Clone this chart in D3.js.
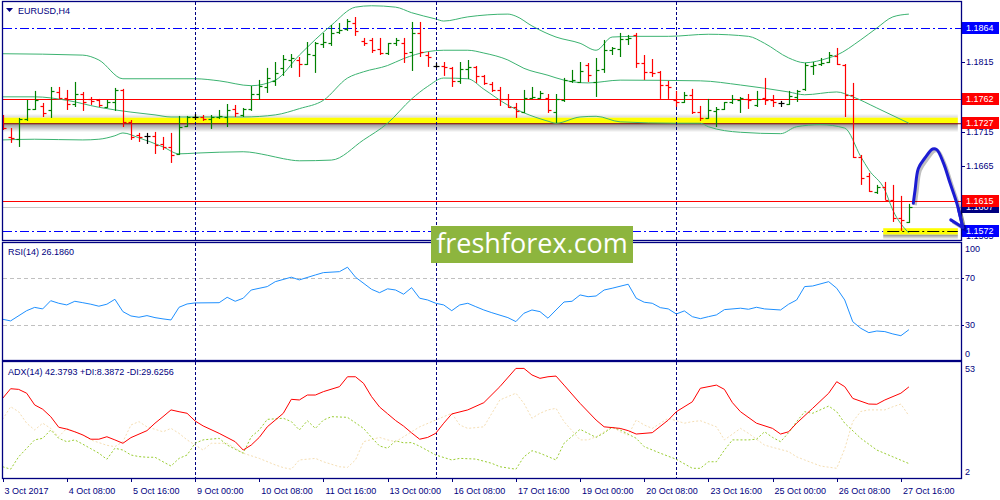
<!DOCTYPE html>
<html>
<head>
<meta charset="utf-8">
<script src="https://cdn.jsdelivr.net/npm/d3@7"></script>
<style>
  body { margin: 0; background: #fff; }
  svg text { font-family: Tahoma, "Liberation Sans", Arial, sans-serif; font-size: 9px; fill: #000080; }
</style>
</head>
<body>
<div id="chart"></div>
<script>
// EURUSD H4 bars, 3 Oct 2017 00:00 .. 27 Oct 2017 20:00
var opens = [1.17245,1.17073,1.17045,1.17332,1.17476,1.17519,1.17461,1.17720,1.17634,1.17547,
  1.17691,1.17620,1.17605,1.17504,1.17576,1.17749,1.17288,1.17102,1.17088,1.17088,
  1.16972,1.16929,1.16828,1.17231,1.17360,1.17360,1.17332,1.17360,1.17360,1.17476,
  1.17389,1.17476,1.17691,1.17792,1.17879,1.18066,1.18180,1.18180,1.18122,1.18252,
  1.18410,1.18425,1.18583,1.18626,1.18712,1.18454,1.18468,1.18339,1.18281,1.18425,
  1.18425,1.18295,1.18569,1.18252,1.18094,1.18094,1.18066,1.17879,1.18051,1.18080,
  1.17951,1.17836,1.17749,1.17620,1.17504,1.17432,1.17634,1.17634,1.17634,1.17432,
  1.17605,1.17879,1.17864,1.18108,1.17864,1.18051,1.18324,1.18339,1.18483,1.18540,
  1.18137,1.18008,1.18008,1.17821,1.17605,1.17576,1.17677,1.17432,1.17346,1.17447,
  1.17476,1.17576,1.17605,1.17620,1.17533,1.17634,1.17605,1.17562,1.17547,1.17648,
  1.17764,1.18094,1.18122,1.18151,1.18238,1.18108,1.17677,1.16785,1.16512,1.16282,
  1.16354,1.16167,1.15908,1.15850];
var highs = [1.17389,1.17202,1.17346,1.17605,1.17735,1.17562,1.17792,1.17792,1.17749,1.17864,
  1.17720,1.17648,1.17620,1.17605,1.17778,1.17764,1.17317,1.17131,1.17131,1.17145,
  1.17073,1.17131,1.17375,1.17375,1.17403,1.17389,1.17389,1.17461,1.17547,1.17533,
  1.17490,1.17807,1.17893,1.18066,1.18151,1.18252,1.18266,1.18223,1.18439,1.18439,
  1.18569,1.18683,1.18712,1.18769,1.18798,1.18497,1.18497,1.18497,1.18425,1.18497,
  1.18497,1.18727,1.18727,1.18295,1.18137,1.18151,1.18080,1.18151,1.18180,1.18094,
  1.17965,1.17864,1.17792,1.17691,1.17562,1.17749,1.17792,1.17735,1.17691,1.17691,
  1.17922,1.18037,1.18151,1.18137,1.18209,1.18468,1.18367,1.18569,1.18540,1.18569,
  1.18252,1.18194,1.18022,1.17879,1.17735,1.17720,1.17764,1.17519,1.17620,1.17504,
  1.17576,1.17677,1.17648,1.17691,1.17735,1.17922,1.17677,1.17591,1.17735,1.17749,
  1.18137,1.18151,1.18209,1.18295,1.18353,1.18122,1.17850,1.16814,1.16556,1.16383,
  1.16426,1.16383,1.16225,1.16110];
var lows = [1.17174,1.16987,1.16929,1.17303,1.17461,1.17360,1.17346,1.17620,1.17461,1.17504,
  1.17447,1.17533,1.17504,1.17490,1.17447,1.17216,1.17030,1.17001,1.16972,1.16828,
  1.16886,1.16699,1.16814,1.17216,1.17317,1.17303,1.17188,1.17332,1.17216,1.17360,
  1.17360,1.17447,1.17605,1.17706,1.17807,1.17951,1.18066,1.17936,1.18108,1.17994,
  1.18353,1.18382,1.18554,1.18598,1.18526,1.18382,1.18281,1.18252,1.18252,1.18382,
  1.18137,1.18022,1.18223,1.18080,1.18066,1.17951,1.17792,1.17836,1.17907,1.17850,
  1.17821,1.17720,1.17519,1.17490,1.17346,1.17418,1.17620,1.17620,1.17418,1.17274,
  1.17576,1.17850,1.17850,1.17864,1.17648,1.17994,1.18252,1.18223,1.18396,1.18066,
  1.17893,1.17936,1.17620,1.17620,1.17504,1.17562,1.17403,1.17303,1.17332,1.17216,
  1.17461,1.17547,1.17418,1.17476,1.17504,1.17533,1.17504,1.17504,1.17533,1.17576,
  1.17735,1.17965,1.18094,1.18137,1.18108,1.17360,1.16771,1.16383,1.16282,1.16253,
  1.16167,1.15850,1.15722,1.15836];
var closes = [1.17202,1.17059,1.17332,1.17476,1.17605,1.17418,1.17735,1.17634,1.17547,1.17691,
  1.17576,1.17591,1.17533,1.17576,1.17749,1.17288,1.17073,1.17073,1.17088,1.16958,
  1.16929,1.16814,1.17216,1.17360,1.17360,1.17332,1.17360,1.17375,1.17461,1.17418,
  1.17476,1.17691,1.17807,1.17922,1.17994,1.18194,1.18209,1.18122,1.18266,1.18425,
  1.18439,1.18569,1.18612,1.18741,1.18598,1.18425,1.18324,1.18281,1.18425,1.18468,
  1.18281,1.18569,1.18295,1.18223,1.18094,1.18080,1.17879,1.18051,1.18080,1.17951,
  1.17850,1.17749,1.17620,1.17504,1.17447,1.17634,1.17648,1.17706,1.17461,1.17620,
  1.17893,1.17893,1.18022,1.17965,1.18037,1.18324,1.18353,1.18483,1.18497,1.18137,
  1.18008,1.17994,1.17821,1.17792,1.17576,1.17677,1.17432,1.17346,1.17461,1.17476,
  1.17576,1.17620,1.17634,1.17605,1.17620,1.17605,1.17576,1.17562,1.17663,1.17735,
  1.18108,1.18108,1.18137,1.18252,1.18122,1.17677,1.16785,1.16484,1.16297,1.16354,
  1.16167,1.15908,1.15879,1.16070];

// Bollinger bands: [bar, price]
var bbUpper = [[0,1.1827],[10,1.1825],[12,1.1818],[15,1.1791],[20,1.1791],[24,1.1791],[27,1.1788],
  [31,1.1781],[34,1.1789],[37,1.1825],[41,1.1868],[44,1.1894],[46,1.1896],[49,1.1894],[51,1.1886],
  [54,1.1877],[55,1.1874],[58,1.1880],[63,1.1884],[64,1.1881],[66,1.1867],[69,1.1851],[72,1.1842],
  [74,1.1832],[76,1.1851],[79,1.1852],[83,1.1852],[88,1.1855],[93,1.1852],[95,1.1842],[98,1.1821],
  [100,1.1814],[103,1.1821],[104,1.1825],[107,1.1847],[109,1.1864],[111,1.1880],[113,1.1884]];
var bbMiddle = [[0,1.1765],[4,1.1765],[8,1.1760],[12,1.1750],[16,1.1743],[19,1.1739],[21,1.1736],
  [25,1.1736],[30,1.1736],[34,1.1739],[37,1.1748],[40,1.1760],[43,1.1792],[45,1.1801],[48,1.1810],
  [50,1.1820],[53,1.1830],[55,1.1832],[58,1.1832],[60,1.1828],[63,1.1818],[65,1.1806],[68,1.1796],
  [70,1.1789],[73,1.1785],[77,1.1789],[87,1.1788],[92,1.1782],[98,1.1772],[100,1.1768],[104,1.1772],
  [106,1.1765],[109,1.1749],[113,1.1727]];
var bbLower = [[0,1.1703],[4,1.1704],[10,1.1703],[12,1.1704],[14,1.1709],[15,1.1713],[17,1.1706],
  [20,1.1693],[22,1.1683],[24,1.1684],[30,1.1686],[33,1.1681],[35,1.1676],[37,1.1673],[41,1.1674],
  [45,1.1703],[48,1.1727],[51,1.1762],[53,1.1780],[55,1.1792],[58,1.1791],[60,1.1776],[63,1.1753],
  [65,1.1742],[68,1.1730],[69,1.1727],[72,1.1736],[74,1.1737],[77,1.1729],[84,1.1727],[87,1.1727],
  [88,1.1722],[92,1.1714],[97,1.1712],[99,1.1722],[102,1.1725],[105,1.1720],[107,1.1679],[108,1.1660],
  [110,1.1631],[111,1.1602],[113,1.1569]];

// RSI(14): [bar, value]
var rsiPts = [[0,35.1],[1,33.7],[3,42.4],[4,45.2],[5,43.9],[6,50.9],[7,48.7],[8,47.3],[9,50.4],[10,49.2],
  [11,47.9],[12,46.2],[13,47.9],[14,52.1],[15,41.6],[16,37.9],[17,36.8],[18,38.2],[19,36.5],[20,35.4],
  [21,34.5],[22,45.3],[23,48.1],[24,49.0],[27,49.2],[28,53.8],[29,50.4],[30,53.0],[31,60.0],[33,62.9],
  [34,67.1],[36,70.9],[37,68.6],[39,72.8],[40,74.8],[42,75.6],[43,79.4],[44,70.9],[46,60.6],[47,57.7],
  [48,61.0],[49,60.0],[50,56.4],[51,62.0],[52,53.0],[53,51.5],[54,48.7],[55,47.3],[56,42.4],[57,47.3],
  [58,48.7],[59,45.8],[60,43.0],[61,40.7],[63,36.5],[64,33.1],[65,40.2],[66,43.0],[67,41.6],[68,36.0],
  [69,43.0],[70,49.8],[71,50.4],[72,55.8],[73,54.3],[74,54.9],[75,60.0],[76,61.5],[78,64.9],[79,53.0],
  [80,49.6],[81,48.7],[82,45.0],[83,43.9],[84,39.6],[85,42.2],[86,37.3],[87,35.6],[88,37.3],[89,38.8],
  [90,43.3],[92,44.5],[93,43.6],[94,45.3],[95,43.9],[97,43.0],[98,47.9],[99,51.5],[100,62.9],[101,63.4],
  [103,67.1],[104,61.5],[105,51.5],[106,33.0],[107,27.4],[108,23.7],[109,25.1],[110,24.6],[111,22.6],
  [112,21.1],[113,26.2]];

// ADX(14), +DI, -DI: [bar, value]
var adxPts = [[0,37.3],[1,41.6],[2,41.3],[3,39.6],[4,34.4],[5,32.5],[6,29.2],[7,24.5],[8,23.7],[9,22.5],
  [10,21.1],[11,19.2],[12,19.2],[13,20.3],[14,18.9],[15,17.4],[16,19.9],[18,23.0],[19,26.3],[20,29.2],
  [21,32.2],[22,31.4],[23,30.7],[24,27.3],[25,25.1],[27,21.8],[29,18.1],[30,14.4],[31,16.6],[32,20.0],
  [33,24.7],[35,30.7],[36,36.9],[37,36.6],[38,38.8],[39,38.8],[40,40.3],[42,42.5],[43,46.9],[44,46.9],
  [45,44.0],[46,38.1],[47,33.5],[48,30.5],[49,27.5],[50,25.0],[51,22.0],[52,19.2],[53,20.0],[54,21.8],
  [55,26.3],[56,30.4],[58,32.2],[60,35.4],[62,42.5],[64,50.6],[65,50.6],[66,47.7],[67,46.2],[68,46.9],
  [69,47.2],[70,43.2],[72,35.1],[74,27.7],[75,24.7],[77,24.0],[78,23.0],[79,21.5],[81,22.1],[83,27.7],
  [84,31.4],[86,35.8],[87,41.8],[89,43.2],[90,41.3],[91,35.4],[92,31.4],[94,26.3],[96,24.0],[97,21.5],
  [98,22.5],[99,26.3],[101,32.9],[103,39.6],[104,44.7],[105,42.5],[106,37.3],[108,34.8],[109,34.7],
  [110,36.6],[112,39.6],[113,42.4]];
var plusDiPts = [[0,7.0],[1,5.9],[2,11.4],[4,18.9],[5,19.6],[6,23.3],[7,19.6],[8,18.1],[9,18.9],[10,17.0],
  [11,15.0],[12,13.0],[13,10.3],[14,15.2],[15,14.4],[16,12.2],[17,11.5],[18,11.2],[19,11.2],[20,9.2],
  [21,7.3],[22,10.7],[23,12.2],[24,17.4],[25,18.9],[27,19.6],[28,16.6],[30,13.0],[31,20.3],[32,23.3],
  [33,28.0],[35,28.5],[36,27.0],[37,23.3],[38,27.4],[39,24.0],[40,27.7],[41,29.2],[43,28.9],[45,24.0],
  [46,20.0],[47,16.2],[48,15.2],[49,18.5],[50,17.6],[51,17.7],[52,16.1],[54,12.2],[56,10.0],[57,10.7],
  [59,10.4],[61,8.5],[62,7.0],[64,5.9],[65,11.4],[66,14.1],[67,13.0],[69,10.0],[70,17.4],[72,23.6],
  [73,21.8],[74,20.0],[75,22.0],[76,24.5],[77,23.3],[79,19.6],[80,15.9],[82,13.0],[84,10.3],[86,6.3],
  [87,6.3],[88,9.2],[89,9.2],[90,14.4],[91,18.9],[93,18.9],[94,19.2],[95,22.5],[96,20.0],[97,18.1],
  [98,22.1],[99,27.0],[100,31.4],[101,30.7],[103,33.9],[104,31.4],[105,26.3],[107,19.6],[109,14.4],
  [111,11.4],[113,8.4]];
var minusDiPts = [[0,28.0],[1,33.6],[2,31.4],[3,26.3],[4,23.3],[5,26.3],[6,24.0],[7,20.3],[8,24.0],[9,22.5],
  [10,21.0],[11,18.9],[13,16.5],[14,15.9],[15,18.1],[16,25.5],[17,27.0],[18,24.7],[20,22.5],[21,24.0],
  [22,21.8],[23,18.9],[25,14.4],[26,17.4],[28,17.4],[29,15.2],[30,13.0],[32,10.7],[34,7.8],[35,6.6],
  [36,5.9],[37,10.0],[39,10.7],[40,9.2],[42,7.0],[43,6.7],[44,10.0],[45,18.1],[47,20.0],[48,18.9],
  [49,18.1],[50,20.3],[51,22.5],[52,24.7],[54,27.7],[56,30.7],[57,25.5],[58,24.0],[60,24.7],[61,30.7],
  [62,36.6],[63,38.1],[64,39.6],[65,35.1],[66,28.5],[67,30.7],[68,32.2],[69,32.9],[70,27.0],[72,18.9],
  [73,18.9],[74,20.3],[76,24.7],[77,22.5],[78,21.0],[79,27.7],[80,25.5],[81,24.0],[83,28.5],[85,26.3],
  [86,27.0],[87,27.4],[89,24.7],[90,18.9],[92,24.0],[93,21.8],[95,16.6],[96,15.6],[98,13.7],[99,11.4],
  [100,10.0],[102,7.3],[104,6.3],[105,15.0],[106,27.0],[107,31.5],[108,32.2],[110,32.2],[111,33.6],
  [112,34.8],[113,29.6]];

var timeLabels = ["3 Oct 2017","4 Oct 08:00","5 Oct 16:00","9 Oct 00:00","10 Oct 08:00","11 Oct 16:00",
  "13 Oct 00:00","16 Oct 08:00","17 Oct 16:00","19 Oct 00:00","20 Oct 08:00","23 Oct 16:00",
  "25 Oct 00:00","26 Oct 08:00","27 Oct 16:00"];
var weekStarts = [24, 54, 84];
var priceTicks = [1.1565, 1.1615, 1.1665, 1.1715, 1.1765, 1.1815, 1.1865];
var rsiLevels = [70, 30];
var rsiTicks = [100, 70, 30, 0];
var adxTicks = [53, 2];
// drawn objects on the chart
var redLines = [1.1762, 1.1615];
var bidPrice = 1.1607;
var dashLines = [1.1864, 1.1572];
var supportZone = [1.1727, 1.1735];
var lowZone = [1.1567, 1.1576];
var arrowPath = [[113.55,1.1612],[113.77,1.1631],[114.18,1.1662],[115.0,1.1677],[115.97,1.1690],
  [116.47,1.1689],[117.3,1.1670],[118.13,1.1641],[118.97,1.1612],[119.72,1.1577]];
var arrowHead = [[118.22,1.1588],[119.72,1.1577],[119.17,1.1604]];
var priceTags = [
  {v: 1.1864, bg: "#0000ff"},
  {v: 1.1762, bg: "#ff0000"},
  {v: 1.1727, bg: "#ff0000"},
  {v: 1.1607, bg: "#000080"},
  {v: 1.1615, bg: "#ff0000"},
  {v: 1.1572, bg: "#0000ff"}
];

var width = 1000, height = 500;
var left = 3, right = 961;
var mainTop = 2, mainBot = 240, rsiTop = 243, rsiBot = 360, adxTop = 362, adxBot = 478;

var svg = d3.select("#chart").append("svg")
  .attr("width", width).attr("height", height);

var x = d3.scaleLinear().domain([0, 113]).range([2.6, 908.9]);
var y = d3.scaleLinear().domain([1.1572, 1.1864]).range([231, 28]);
var yRsi = d3.scaleLinear().domain([0, 100]).range([360.5, 243]);
var yAdx = d3.scaleLinear().domain([2, 53]).range([478, 363]);

var defs = svg.append("defs");
[["clipMain", mainTop, mainBot], ["clipRsi", rsiTop, rsiBot], ["clipAdx", adxTop, adxBot]].forEach(function(c) {
  defs.append("clipPath").attr("id", c[0]).append("rect")
    .attr("x", left).attr("y", c[1]).attr("width", right - left).attr("height", c[2] - c[1]);
});
var grad = defs.append("linearGradient").attr("id", "shade").attr("x1", 0).attr("x2", 0).attr("y1", 0).attr("y2", 1);
grad.append("stop").attr("offset", "0%").attr("stop-color", "#000").attr("stop-opacity", 0.45);
grad.append("stop").attr("offset", "100%").attr("stop-color", "#000").attr("stop-opacity", 0);
var gradUp = defs.append("linearGradient").attr("id", "shadeUp").attr("x1", 0).attr("x2", 0).attr("y1", 1).attr("y2", 0);
gradUp.append("stop").attr("offset", "0%").attr("stop-color", "#000").attr("stop-opacity", 0.15);
gradUp.append("stop").attr("offset", "100%").attr("stop-color", "#000").attr("stop-opacity", 0);

var main = svg.append("g").attr("clip-path", "url(#clipMain)");

// yellow support zone with shadow
var zx0 = left, zx1 = x(119.1);
main.append("rect").attr("x", zx0).attr("width", zx1 - zx0)
  .attr("y", y(supportZone[1]) - 4).attr("height", 4).attr("fill", "url(#shadeUp)");
main.append("rect").attr("x", zx0).attr("width", zx1 - zx0)
  .attr("y", y(supportZone[0])).attr("height", 9).attr("fill", "url(#shade)");
main.append("rect").attr("x", zx0).attr("width", zx1 - zx0)
  .attr("y", y(supportZone[1])).attr("height", y(supportZone[0]) - y(supportZone[1]))
  .attr("fill", "#ffff00");
main.append("line").attr("x1", left).attr("x2", right)
  .attr("y1", y(supportZone[0]) + 0.5).attr("y2", y(supportZone[0]) + 0.5)
  .attr("stroke", "#800000").attr("stroke-width", 1);

// small yellow zone at the low
var lx0 = x(109.8), lx1 = x(119.1);
main.append("rect").attr("x", lx0).attr("width", lx1 - lx0)
  .attr("y", y(lowZone[0])).attr("height", 5).attr("fill", "url(#shade)");
main.append("rect").attr("x", lx0).attr("width", lx1 - lx0)
  .attr("y", y(lowZone[1])).attr("height", y(lowZone[0]) - y(lowZone[1])).attr("fill", "#ffff00");

// horizontal lines
main.append("line").attr("x1", left).attr("x2", right)
  .attr("y1", Math.round(y(bidPrice)) + 0.5).attr("y2", Math.round(y(bidPrice)) + 0.5)
  .attr("stroke", "#c8c8c8");
main.selectAll("line.red").data(redLines).join("line").attr("class", "red")
  .attr("x1", left).attr("x2", right)
  .attr("y1", function(d) { return Math.round(y(d)) + 0.5; })
  .attr("y2", function(d) { return Math.round(y(d)) + 0.5; })
  .attr("stroke", "#ff0000");
main.append("line").attr("x1", left).attr("x2", right)
  .attr("y1", Math.round(y(dashLines[0])) + 0.5).attr("y2", Math.round(y(dashLines[0])) + 0.5)
  .attr("stroke", "#0000ff").attr("stroke-dasharray", "9,3,2,3");
main.append("line").attr("x1", left).attr("x2", lx0)
  .attr("y1", Math.round(y(dashLines[1])) + 0.5).attr("y2", Math.round(y(dashLines[1])) + 0.5)
  .attr("stroke", "#0000ff").attr("stroke-dasharray", "9,3,2,3");
main.append("line").attr("x1", lx0 + 4).attr("x2", lx1)
  .attr("y1", Math.round(y(dashLines[1])) + 0.5).attr("y2", Math.round(y(dashLines[1])) + 0.5)
  .attr("stroke", "#000").attr("stroke-dasharray", "12,3,2,3");

// bollinger bands
var bbLine = d3.line().x(function(d) { return x(d[0]); }).y(function(d) { return y(d[1]); })
  .curve(d3.curveMonotoneX);
[bbUpper, bbMiddle, bbLower].forEach(function(b) {
  main.append("path").attr("d", bbLine(b)).attr("fill", "none")
    .attr("stroke", "#3cb371").attr("stroke-width", 1);
});

// period separators
function separators(g, y0, y1) {
  g.selectAll("line.sep").data(weekStarts).join("line").attr("class", "sep")
    .attr("x1", function(d) { return Math.round(x(d)) + 0.5; })
    .attr("x2", function(d) { return Math.round(x(d)) + 0.5; })
    .attr("y1", y0).attr("y2", y1)
    .attr("stroke", "#000080").attr("stroke-dasharray", "3,2");
}
separators(main, mainTop, mainBot);

// OHLC bars
var bars = opens.map(function(o, i) {
  return {i: i, o: o, h: highs[i], l: lows[i], c: closes[i]};
});
var barG = main.selectAll("g.bar").data(bars).join("g").attr("class", "bar")
  .attr("stroke", function(d) { return d.c > d.o ? "#008000" : (d.c < d.o ? "#ff0000" : "#000000"); })
  .attr("stroke-width", 1.2);
barG.append("line")
  .attr("x1", function(d) { return Math.round(x(d.i)) + 0.5; })
  .attr("x2", function(d) { return Math.round(x(d.i)) + 0.5; })
  .attr("y1", function(d) { return y(d.h); })
  .attr("y2", function(d) { return y(d.l); });
barG.append("line")
  .attr("x1", function(d) { return Math.round(x(d.i)) - 2.5; })
  .attr("x2", function(d) { return Math.round(x(d.i)) + 0.5; })
  .attr("y1", function(d) { return Math.round(y(d.o)) + 0.5; })
  .attr("y2", function(d) { return Math.round(y(d.o)) + 0.5; });
barG.append("line")
  .attr("x1", function(d) { return Math.round(x(d.i)) + 0.5; })
  .attr("x2", function(d) { return Math.round(x(d.i)) + 3.5; })
  .attr("y1", function(d) { return Math.round(y(d.c)) + 0.5; })
  .attr("y2", function(d) { return Math.round(y(d.c)) + 0.5; });

// title
svg.append("path").attr("d", "M6,8 L13,8 L9.5,12 Z").attr("fill", "#000080");
svg.append("text").attr("x", 18).attr("y", 14).text("EURUSD,H4");

// price axis (tick labels that sit fully under a price tag are not shown)
var axisG = svg.append("g").attr("clip-path", "url(#clipPriceAxis)");
defs.append("clipPath").attr("id", "clipPriceAxis").append("rect")
  .attr("x", right).attr("y", mainTop).attr("width", 40).attr("height", mainBot - mainTop);
var shownTicks = priceTicks.filter(function(t) {
  return !priceTags.some(function(g) { return Math.abs(y(g.v) - y(t)) < 4; });
});
axisG.selectAll("line.pt").data(priceTicks).join("line").attr("class", "pt")
  .attr("x1", right).attr("x2", right + 4)
  .attr("y1", function(d) { return Math.round(y(d)) + 0.5; })
  .attr("y2", function(d) { return Math.round(y(d)) + 0.5; })
  .attr("stroke", "#000080");
axisG.selectAll("text.pt").data(shownTicks).join("text").attr("class", "pt")
  .attr("x", right + 5).attr("y", function(d) { return y(d); }).attr("dy", "0.35em")
  .text(function(d) { return d.toFixed(4); });
var tags = axisG.selectAll("g.tag").data(priceTags).join("g").attr("class", "tag");
tags.append("rect").attr("x", right + 1).attr("width", 37)
  .attr("y", function(d) { return Math.round(y(d.v)) - 6; }).attr("height", 12)
  .attr("fill", function(d) { return d.bg; });
tags.append("text").attr("x", right + 5).attr("y", function(d) { return y(d.v); }).attr("dy", "0.35em")
  .style("fill", "#fff").text(function(d) { return d.v.toFixed(4); });

// RSI panel
var rsiG = svg.append("g").attr("clip-path", "url(#clipRsi)");
rsiG.selectAll("line.lvl").data(rsiLevels).join("line").attr("class", "lvl")
  .attr("x1", left).attr("x2", right)
  .attr("y1", function(d) { return Math.round(yRsi(d)) + 0.5; })
  .attr("y2", function(d) { return Math.round(yRsi(d)) + 0.5; })
  .attr("stroke", "#c0c0c0").attr("stroke-dasharray", "4,3");
separators(rsiG, rsiTop, rsiBot);
rsiG.append("path")
  .attr("d", d3.line().x(function(d) { return x(d[0]); }).y(function(d) { return yRsi(d[1]); })(rsiPts))
  .attr("fill", "none").attr("stroke", "#1e90ff").attr("stroke-width", 1);
svg.append("text").attr("x", 8).attr("y", 255).text("RSI(14) 26.1860");
svg.selectAll("text.rt").data(rsiTicks).join("text").attr("class", "rt")
  .attr("x", right + 4)
  .attr("y", function(d) { return yRsi(d) + (d === 100 ? 6 : (d === 0 ? -7 : 0)); })
  .attr("dy", "0.35em").text(function(d) { return d; });
svg.selectAll("line.rt").data(rsiLevels).join("line").attr("class", "rt")
  .attr("x1", right).attr("x2", right + 3)
  .attr("y1", function(d) { return Math.round(yRsi(d)) + 0.5; })
  .attr("y2", function(d) { return Math.round(yRsi(d)) + 0.5; })
  .attr("stroke", "#000080");

// ADX panel
var adxG = svg.append("g").attr("clip-path", "url(#clipAdx)");
separators(adxG, adxTop, adxBot);
var adxLine = d3.line().x(function(d) { return x(d[0]); }).y(function(d) { return yAdx(d[1]); });
adxG.append("path").attr("d", adxLine(minusDiPts)).attr("fill", "none")
  .attr("stroke", "#f5deb3").attr("stroke-width", 1).attr("stroke-dasharray", "2,2");
adxG.append("path").attr("d", adxLine(plusDiPts)).attr("fill", "none")
  .attr("stroke", "#9acd32").attr("stroke-width", 1).attr("stroke-dasharray", "2,2");
adxG.append("path").attr("d", adxLine(adxPts)).attr("fill", "none")
  .attr("stroke", "#ff0000").attr("stroke-width", 1);
svg.append("text").attr("x", 8).attr("y", 375).text("ADX(14) 42.3793 +DI:8.3872 -DI:29.6256");
svg.selectAll("text.at").data(adxTicks).join("text").attr("class", "at")
  .attr("x", right + 4)
  .attr("y", function(d) { return yAdx(d) + (d === 53 ? 6 : -6); })
  .attr("dy", "0.35em").text(function(d) { return d; });

// panel frames
[[mainTop, mainBot], [rsiTop, rsiBot], [adxTop, adxBot]].forEach(function(p) {
  svg.append("rect").attr("x", left - 0.5).attr("y", p[0] - 0.5)
    .attr("width", right - left + 1).attr("height", p[1] - p[0] + 1)
    .attr("fill", "none").attr("stroke", "#000080").attr("stroke-width", 1.3);
});

// time axis
var tIdx = timeLabels.map(function(t, k) { return k * 8; });
svg.selectAll("line.tt").data(tIdx).join("line").attr("class", "tt")
  .attr("x1", function(d) { return Math.round(x(d)) + 0.5; })
  .attr("x2", function(d) { return Math.round(x(d)) + 0.5; })
  .attr("y1", adxBot).attr("y2", adxBot + 4).attr("stroke", "#000080");
svg.selectAll("text.tt").data(timeLabels).join("text").attr("class", "tt")
  .attr("x", function(d, k) { return x(k * 8) + 2; }).attr("y", 494)
  .text(function(d) { return d; });

// hand drawn forecast arrow
var arrowLine = d3.line().x(function(d) { return x(d[0]); }).y(function(d) { return y(d[1]); })
  .curve(d3.curveCatmullRom);
var headLine = d3.line().x(function(d) { return x(d[0]); }).y(function(d) { return y(d[1]); });
svg.append("path").attr("d", arrowLine(arrowPath)).attr("transform", "translate(2,2)")
  .attr("fill", "none").attr("stroke", "#000").attr("stroke-opacity", 0.25).attr("stroke-width", 3);
svg.append("path").attr("d", headLine(arrowHead)).attr("transform", "translate(2,2)")
  .attr("fill", "none").attr("stroke", "#000").attr("stroke-opacity", 0.25).attr("stroke-width", 3);
svg.append("path").attr("d", arrowLine(arrowPath))
  .attr("fill", "none").attr("stroke", "#1c1cd2").attr("stroke-width", 3).attr("stroke-linecap", "round");
svg.append("path").attr("d", headLine(arrowHead))
  .attr("fill", "none").attr("stroke", "#1c1cd2").attr("stroke-width", 3)
  .attr("stroke-linecap", "round").attr("stroke-linejoin", "round");

// watermark
svg.append("rect").attr("x", 431).attr("y", 226).attr("width", 202).attr("height", 37).attr("fill", "#8db53e");
svg.append("text").attr("x", 532).attr("y", 253).attr("text-anchor", "middle")
  .style("font-family", "'Open Sans', 'Noto Sans', sans-serif").style("font-size", "27px").style("fill", "#fff")
  .text("freshforex.com");
</script>
</body>
</html>
